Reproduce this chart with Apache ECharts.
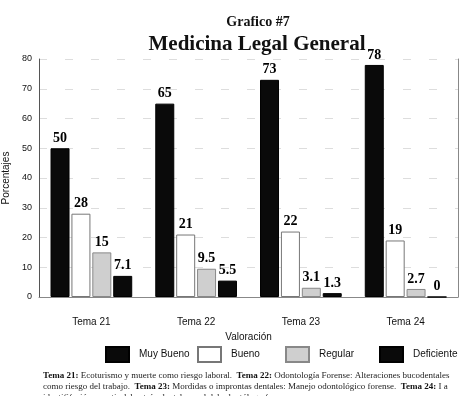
<!DOCTYPE html>
<html>
<head>
<meta charset="utf-8">
<script src="https://cdn.jsdelivr.net/npm/echarts@6/dist/echarts.min.js"></script>
<style>
html,body{margin:0;padding:0;background:#fff;}
#chart{width:464px;height:396px;}
</style>
</head>
<body>
<div id="chart"></div>
<script>
var categories = ['Tema 21', 'Tema 22', 'Tema 23', 'Tema 24'];
var muyBueno = [50, 65, 73, 78];
var bueno = [28, 21, 22, 19];
var regular = [15, 9.5, 3.1, 2.7];
var deficiente = [7.1, 5.5, 1.3, 0];
var yTicks = [0, 10, 20, 30, 40, 50, 60, 70, 80];
var legendNames = ['Muy Bueno', 'Bueno', 'Regular', 'Deficiente'];

var chart = echarts.init(document.getElementById('chart'));
var serif = '"Liberation Serif", "DejaVu Serif", serif';
var sans = '"Liberation Sans", Arial, sans-serif';

var valueLabel = {
  show: true,
  position: 'top',
  distance: 3,
  color: '#000',
  fontFamily: serif,
  fontWeight: 'bold',
  fontSize: 14
};

function bar(name, data, fill, border) {
  return {
    name: name,
    type: 'bar',
    data: data,
    barWidth: 19,
    barGap: '10%',
    itemStyle: { color: fill, borderColor: border, borderWidth: 1 },
    label: valueLabel
  };
}

// one legend per item so they sit where the original has them
var legendLefts = [100, 192, 280, 374];
var legends = legendNames.map(function (n, i) {
  return {
    left: legendLefts[i],
    top: 341,
    itemWidth: 23,
    itemHeight: 15,
    icon: 'rect',
    textStyle: { fontFamily: sans, fontSize: 10, color: '#111', padding: [0, 0, 0, 5] },
    data: [n]
  };
});

var option = {
  backgroundColor: '#fff',
  animation: false,
  title: [
    { text: 'Grafico #7', left: 253, top: 10, textAlign: 'center',
      textStyle: { fontFamily: serif, fontWeight: 'bold', fontSize: 14, color: '#111' } },
    { text: 'Medicina Legal General', left: 252, top: 29, textAlign: 'center',
      textStyle: { fontFamily: serif, fontWeight: 'bold', fontSize: 21, color: '#111' } }
  ],
  grid: { left: 39, right: 6, top: 59, bottom: 99, outerBoundsMode: 'none' },
  legend: legends,
  xAxis: {
    type: 'category',
    data: categories,
    name: 'Valoración',
    nameLocation: 'middle',
    nameGap: 31,
    nameTextStyle: { fontFamily: sans, fontSize: 10, color: '#111' },
    axisLine: { lineStyle: { color: '#888', width: 1 } },
    axisTick: { show: false },
    axisLabel: { margin: 20, fontFamily: sans, fontSize: 10, color: '#111' }
  },
  yAxis: [{
    type: 'value',
    min: 0,
    max: 80,
    interval: 10,
    name: 'Porcentajes',
    nameLocation: 'middle',
    nameGap: 22,
    nameTextStyle: { fontFamily: sans, fontSize: 10, color: '#111' },
    axisLine: { show: true, lineStyle: { color: '#555', width: 1 } },
    axisTick: { show: false },
    axisLabel: {
      margin: 7,
      fontFamily: sans, fontSize: 9, color: '#111',
      formatter: function (v) { return yTicks.indexOf(v) >= 0 ? String(v) : ''; }
    },
    splitLine: { show: true, lineStyle: { color: '#ddd', type: [8, 18], width: 1 } }
  }, {
    type: 'value',
    min: 0,
    max: 80,
    interval: 10,
    position: 'right',
    axisLine: { show: true, lineStyle: { color: '#888', width: 1 } },
    axisTick: { show: false },
    axisLabel: { show: false },
    splitLine: { show: false }
  }],
  series: [
    bar('Muy Bueno', muyBueno, '#0a0a0a', '#000'),
    bar('Bueno', bueno, '#ffffff', '#777'),
    bar('Regular', regular, '#cfcfcf', '#888'),
    bar('Deficiente', deficiente, '#0a0a0a', '#000')
  ],
  graphic: [{
    type: 'text',
    left: 43,
    top: 370,
    style: {
      text: '{b|Tema 21:} Ecoturismo y muerte como riesgo laboral.  {b|Tema 22:} Odontología Forense: Alteraciones bucodentales\n' +
            'como riesgo del trabajo.  {b|Tema 23:} Mordidas o improntas dentales: Manejo odontológico forense.  {b|Tema 24:} I a\n' +
            'identififación a partir del patrón dental, panel del odontólogo forense.',
      fontFamily: serif,
      fontSize: 9,
      lineHeight: 11,
      fill: '#222',
      rich: {
        b: { fontFamily: serif, fontWeight: 'bold', fontSize: 9, lineHeight: 11, fill: '#111' }
      }
    }
  }]
};

chart.setOption(option);
window.addEventListener('resize', function () { chart.resize(); });
</script>
</body>
</html>
